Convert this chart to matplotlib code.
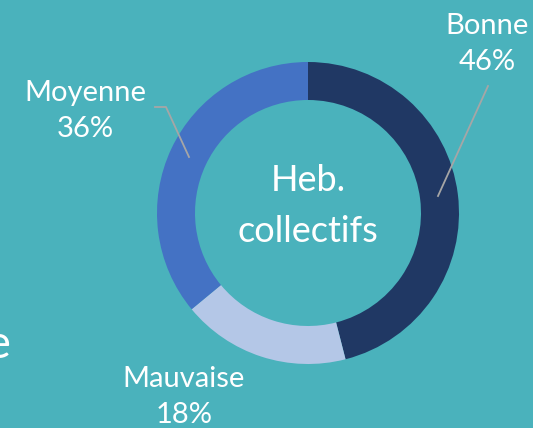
import matplotlib
matplotlib.use("Agg")
from matplotlib import pyplot as plt

categories = ["Bonne", "Mauvaise", "Moyenne"]
values = [46, 18, 36]
colors = ["#203864", "#B4C7E7", "#4472C4"]
center_label = "Heb.\ncollectifs"

W, H = 533, 428
BG = "#4AB2BC"
plt.rcParams["font.family"] = ["Lato", "DejaVu Sans"]


def py(y):
    # pixel row (from top) -> data y
    return H - y


fig = plt.figure(figsize=(W / 100, H / 100), dpi=100, facecolor=BG)
ax = fig.add_axes([0, 0, 1, 1])

cx, cy, r = 308, py(213), 151
ax.pie(values, colors=colors, startangle=90, counterclock=False,
       center=(cx, cy), radius=r, frame=True,
       wedgeprops=dict(width=38, linewidth=0))
ax.set_xlim(0, W)
ax.set_ylim(0, H)
ax.set_aspect("equal")
ax.axis("off")

ax.text(cx, py(206), center_label, ha="center", va="center", color="white",
        fontsize=26, linespacing=1.7)

pct = {c: v for c, v in zip(categories, values)}
lab_kw = dict(ha="center", va="center", color="white", fontsize=21,
              linespacing=1.5)
ax.text(487, py(44), f"Bonne\n{pct['Bonne']}%", **lab_kw)
ax.text(85, py(111), f"Moyenne\n{pct['Moyenne']}%", **lab_kw)
ax.text(184, py(397), f"Mauvaise\n{pct['Mauvaise']}%", **lab_kw)

# leader lines
ax.plot([488, 438], [py(86), py(196)], color="#A6A6A6", lw=1.3)
ax.plot([155, 166, 189], [py(107), py(107), py(157)], color="#A6A6A6", lw=1.3)

# text cut off by the left edge, as in the source slide
ax.text(11, py(345), "e", ha="right", va="center", color="white",
        fontsize=34)

fig.savefig("out.png", dpi=100, facecolor=BG)
